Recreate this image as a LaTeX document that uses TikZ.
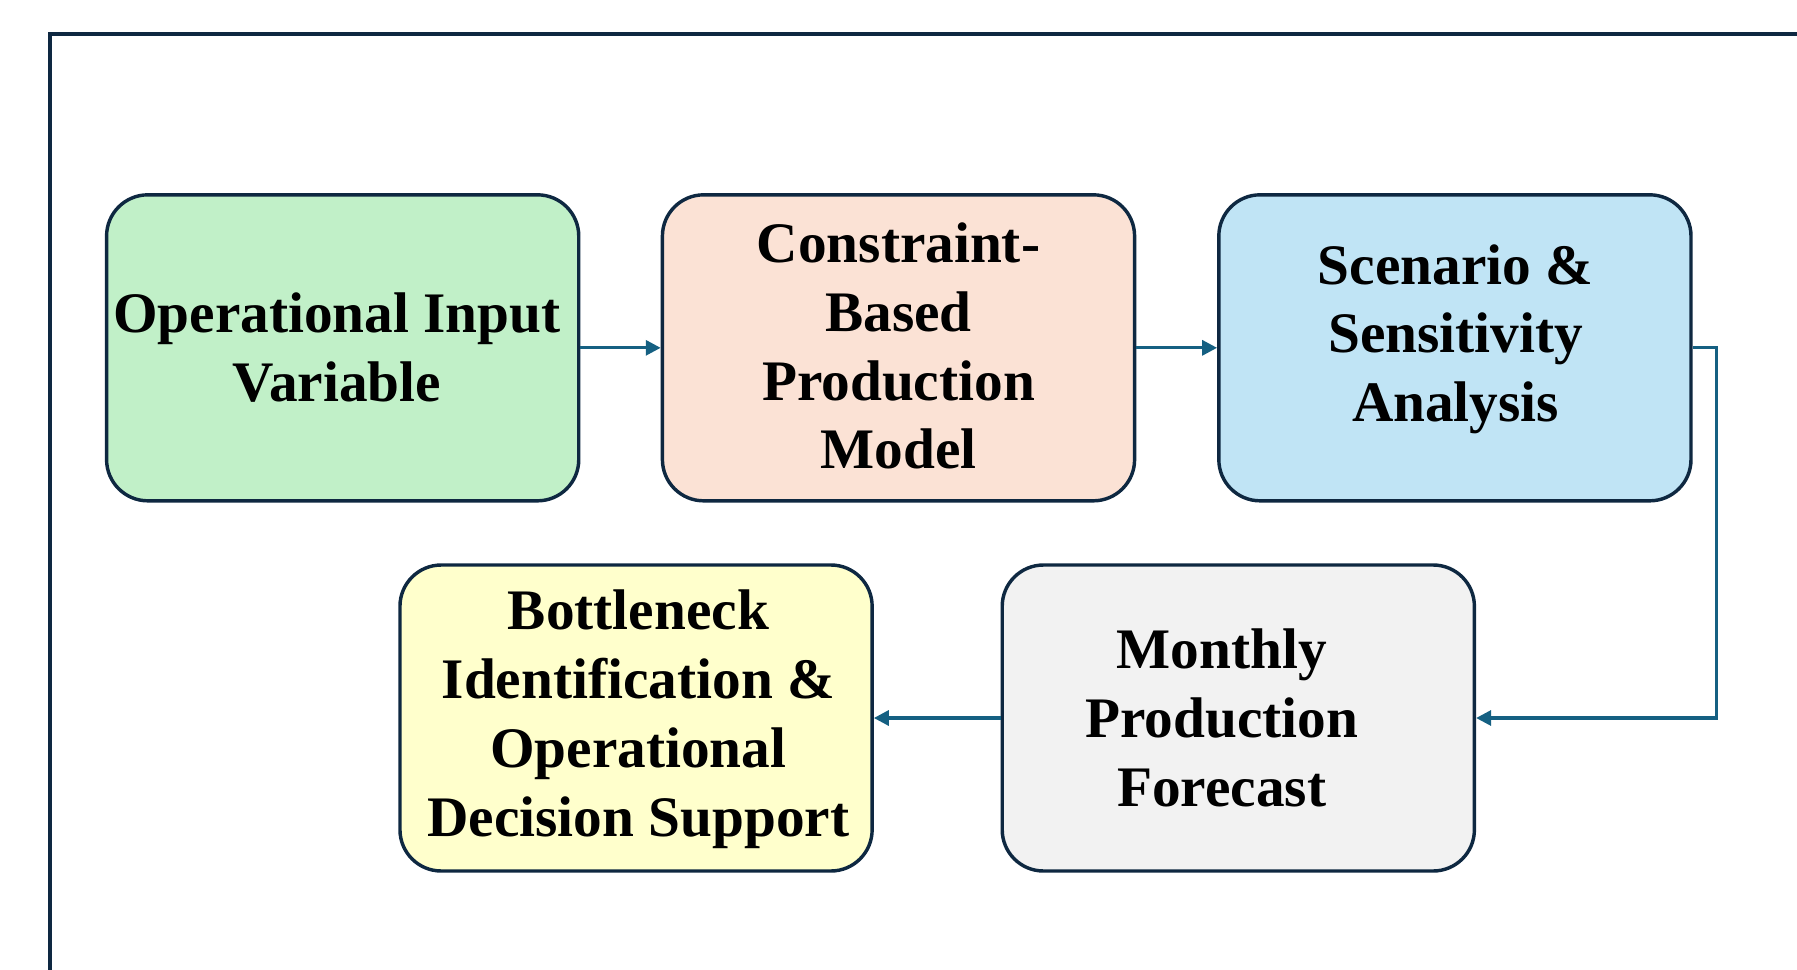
\documentclass[tikz,border=0pt]{standalone}
\usepackage{fontspec}
\setmainfont{Liberation Serif}
\usetikzlibrary{arrows.meta}

\definecolor{edgedark}{HTML}{0E2841}
\definecolor{flowblue}{HTML}{156082}
\definecolor{fillgreen}{HTML}{C1F0C8}
\definecolor{fillpeach}{HTML}{FBE2D5}
\definecolor{fillblue}{HTML}{C0E4F5}
\definecolor{fillyellow}{HTML}{FFFFCC}
\definecolor{fillgray}{HTML}{F2F2F2}

\tikzset{
  stagebox/.style={draw=edgedark, line width=1.5pt, rounded corners=18pt,
    minimum width=206pt, minimum height=133.5pt, inner sep=0pt},
  stagetext/.style={align=center, inner sep=0pt,
    font=\bfseries\fontsize{25}{30}\selectfont},
  flow/.style={draw=flowblue, line width=1.4pt,
    -{Triangle[length=6.5pt,width=6.5pt]}},
  frameline/.style={draw=edgedark, line width=1.8pt}
}

\begin{document}
\begin{tikzpicture}[x=0.5pt, y=-0.5pt]
  \useasboundingbox (0,0) rectangle (1568,846);
  \clip (0,0) rectangle (1568,846);

  % outer frame, open towards the right and bottom
  \draw[frameline] (1600,30) -- (44,30) -- (44,900);

  % first row
  \node[stagebox, fill=fillgreen] (input) at (299,303.5) {};
  \node[stagetext] (inputtext) at (294,303.5)
    {Operational Input\\Variable};
  \node[stagebox, fill=fillpeach] (model) at (784,303.5) {};
  \node[stagetext] (modeltext) at (784,302)
    {Constraint-\\Based\\Production\\Model};
  \node[stagebox, fill=fillblue] (scenario) at (1269.5,303.5) {};
  \node[stagetext] (scenariotext) at (1270,296)
    {Scenario \&\\Sensitivity\\Analysis};

  % second row
  \node[stagebox, fill=fillgray] (forecast) at (1080.5,626.5) {};
  \node[stagetext] (forecasttext) at (1066,626.5)
    {Monthly\\Production\\Forecast};
  \node[stagebox, fill=fillyellow] (decision) at (555,626.5) {};
  \node[stagetext] (decisiontext) at (557,627.5)
    {Bottleneck\\Identification \&\\Operational\\Decision Support};

  % connectors
  \draw[flow] (input.east) -- (model.west);
  \draw[flow] (model.east) -- (scenario.west);
  \draw[flow] (scenario.east) -- ++(21,0) |- (forecast.east);
  \draw[flow] (forecast.west) -- (decision.east);
\end{tikzpicture}
\end{document}
